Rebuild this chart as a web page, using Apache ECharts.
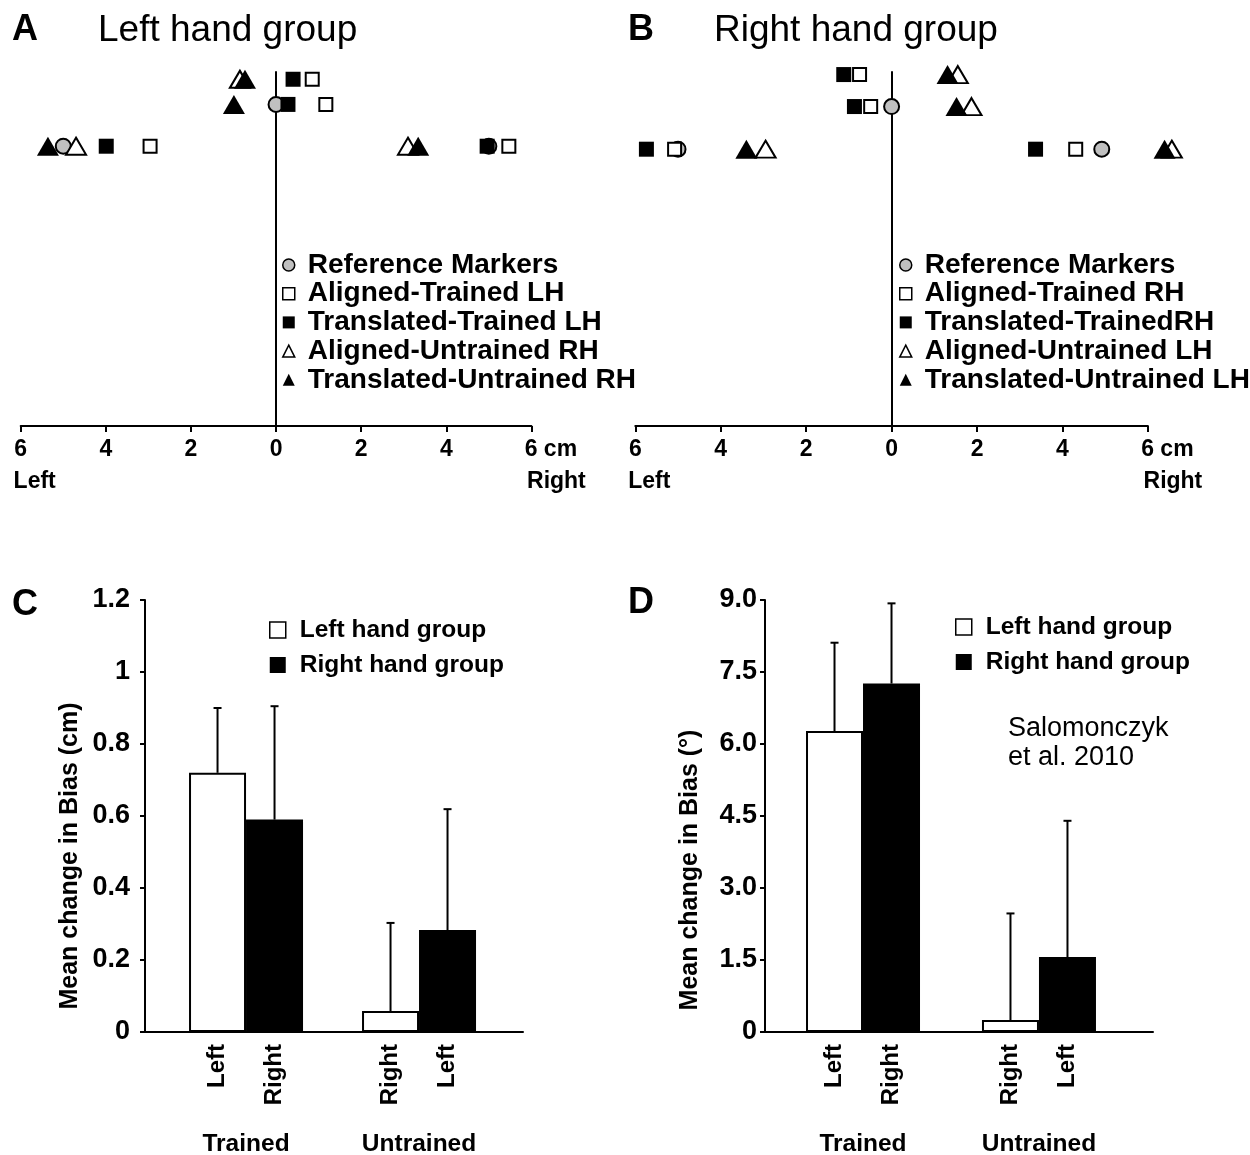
<!DOCTYPE html>
<html><head><meta charset="utf-8">
<script src="https://cdn.jsdelivr.net/npm/echarts@6/dist/echarts.min.js"></script>
<style>html,body{margin:0;padding:0;background:#fff}#c{width:1250px;height:1155px}</style>
</head><body><div id="c"></div>
<script>
const FONT = '"Liberation Sans", Arial, Helvetica, sans-serif';

// ---------- Panel A: Left hand group (x = cm, y = target row) ----------
const aRef                 = [[-5.0, 6.56], [0, 7.54], [5.0, 6.56]];
const aAlignedTrained      = [[0.85, 8.13], [1.17, 7.54], [-2.96, 6.56], [5.47, 6.56]];
const aTranslatedTrained   = [[0.40, 8.13], [0.28, 7.54], [-3.99, 6.56], [4.96, 6.56]];
const aAlignedUntrained    = [[-0.85, 8.13], [-4.70, 6.56], [3.10, 6.56]];
const aTranslatedUntrained = [[-0.73, 8.13], [-0.99, 7.54], [-5.36, 6.56], [3.34, 6.56]];
const aNames = ['Reference Markers', 'Aligned-Trained LH', 'Translated-Trained LH', 'Aligned-Untrained RH', 'Translated-Untrained RH'];

// ---------- Panel B: Right hand group ----------
const bRef                 = [[-5.0, 6.49], [0, 7.49], [4.92, 6.49]];
const bAlignedTrained      = [[-0.75, 8.24], [-0.49, 7.49], [-5.08, 6.49], [4.31, 6.49]];
const bTranslatedTrained   = [[-1.12, 8.24], [-0.87, 7.49], [-5.74, 6.49], [3.37, 6.49]];
const bAlignedUntrained    = [[1.55, 8.24], [1.87, 7.49], [-2.95, 6.49], [6.56, 6.49]];
const bTranslatedUntrained = [[1.31, 8.24], [1.52, 7.49], [-3.40, 6.49], [6.39, 6.49]];
const bNames = ['Reference Markers', 'Aligned-Trained RH', 'Translated-TrainedRH', 'Aligned-Untrained LH', 'Translated-Untrained LH'];

const sideLabels = ['Left', 'Right'];
const panelTitles = ['Left hand group', 'Right hand group'];

// ---------- Panels C / D: bars ----------
const barGroups = ['Trained', 'Untrained'];
const groupNames = ['Left hand group', 'Right hand group'];
const handUsedLeftGroup  = ['Left', 'Right'];
const handUsedRightGroup = ['Right', 'Left'];

const cLeftGroup     = [0.72, 0.058];
const cLeftGroupErr  = [0.18, 0.245];
const cRightGroup    = [0.59, 0.283];
const cRightGroupErr = [0.315, 0.336];

const dLeftGroup     = [6.27, 0.25];
const dLeftGroupErr  = [1.84, 2.22];
const dRightGroup    = [7.26, 1.56];
const dRightGroupErr = [1.67, 2.84];

const BAR_W = 57;

const chart = echarts.init(document.getElementById('c'), null, {renderer: 'canvas'});

const symStyles = [
  {symbol: 'circle', symbolSize: 15, itemStyle: {color: '#c0c0c0', borderColor: '#000', borderWidth: 2, opacity: 1}},
  {symbol: 'rect', symbolSize: 13, itemStyle: {color: '#fff', borderColor: '#000', borderWidth: 2, opacity: 1}},
  {symbol: 'rect', symbolSize: 15, itemStyle: {color: '#000', borderColor: '#000', borderWidth: 0, opacity: 1}},
  {symbol: 'triangle', symbolSize: [20, 17], itemStyle: {color: '#fff', borderColor: '#000', borderWidth: 2, opacity: 1}},
  {symbol: 'triangle', symbolSize: [22, 19], itemStyle: {color: '#000', borderColor: '#000', borderWidth: 0, opacity: 1}}
];

function scatterSet(idx, names, sets) {
  return sets.map((d, k) => Object.assign({
    type: 'scatter', name: names[k], xAxisIndex: idx, yAxisIndex: idx,
    data: d, clip: false, silent: true
  }, symStyles[k]));
}

function topXAxis(gridIndex) {
  return {
    type: 'value', gridIndex, min: -6, max: 6, interval: 2,
    axisLine: {show: true, onZero: false, lineStyle: {color: '#000', width: 2}},
    axisTick: {show: true, inside: false, length: 6, lineStyle: {color: '#000', width: 2}},
    splitLine: {show: false},
    axisLabel: {
      color: '#000', fontFamily: FONT, fontSize: 23, fontWeight: 'bold', lineHeight: 32, margin: 8,
      formatter: v => v === -6 ? '6\n{gl| }' + sideLabels[0]
                    : v === 6 ? '{gc| }6 cm\n{gr| }' + sideLabels[1]
                    : String(Math.abs(v)),
      rich: {
        gl: {width: 28, lineHeight: 32},
        gc: {width: 39, lineHeight: 32},
        gr: {width: 50, lineHeight: 32}
      }
    }
  };
}
function topYAxis(gridIndex) {
  return {
    type: 'value', gridIndex, min: 0, max: 8.3,
    axisLine: {show: true, onZero: true, lineStyle: {color: '#000', width: 2}},
    axisTick: {show: false}, axisLabel: {show: false}, splitLine: {show: false}
  };
}
function barXAxis(gridIndex, min, max) {
  return {
    type: 'value', gridIndex, min, max,
    axisLine: {show: true, onZero: false, lineStyle: {color: '#000', width: 2}},
    axisTick: {show: false}, splitLine: {show: false},
    axisLabel: {
      customValues: [0, 1], color: '#000', fontFamily: FONT, fontSize: 24.5, fontWeight: 'bold',
      lineHeight: 30, margin: 97,
      formatter: v => Number.isInteger(v) && barGroups[v] ? barGroups[v] : ''
    }
  };
}
function barYAxis(gridIndex, max, interval, name, fmt, labelMargin, nameShift) {
  return {
    type: 'value', gridIndex, min: 0, max, interval,
    name, nameLocation: 'middle', nameGap: 62,
    nameTextStyle: {color: '#000', fontFamily: FONT, fontSize: 25, fontWeight: 'bold', padding: [0, nameShift, 0, 0]},
    axisLine: {show: true, onZero: false, lineStyle: {color: '#000', width: 2}},
    axisTick: {show: true, inside: false, length: 5, lineStyle: {color: '#000', width: 2}},
    splitLine: {show: false},
    axisLabel: {color: '#000', fontFamily: FONT, fontSize: 27, fontWeight: 'bold', margin: labelMargin, formatter: fmt}
  };
}

function barSeries(idx, name, vals, hands, fill) {
  return {
    type: 'bar', name, xAxisIndex: idx, yAxisIndex: idx,
    data: vals.map((v, i) => [i, v]),
    barWidth: BAR_W, barGap: '0%', silent: true,
    itemStyle: {color: fill, borderColor: '#000', borderWidth: 2},
    label: {
      show: true, position: 'bottom', rotate: 90, align: 'right', verticalAlign: 'middle',
      distance: 12, color: '#000', fontFamily: FONT, fontSize: 24, fontWeight: 'bold',
      formatter: p => hands[p.dataIndex]
    }
  };
}
function errSeries(idx, vals, errs, side) {
  return {
    type: 'custom', xAxisIndex: idx, yAxisIndex: idx, z: 5, silent: true, clip: false,
    data: vals.map((v, i) => [i, v, errs[i]]),
    encode: {x: 0, y: 1},
    renderItem(params, api) {
      const x = api.value(0), m = api.value(1), e = api.value(2);
      const b = api.coord([x, m]), t = api.coord([x, m + e]);
      const cx = b[0] + side * BAR_W / 2;
      const st = {stroke: '#000', lineWidth: 2};
      return {type: 'group', children: [
        {type: 'line', shape: {x1: cx, y1: b[1], x2: cx, y2: t[1]}, style: st},
        {type: 'line', shape: {x1: cx - 4, y1: t[1], x2: cx + 4, y2: t[1]}, style: st}
      ]};
    }
  };
}

function topLegend(left, top, names) {
  const legStyles = [
    {color: '#c0c0c0', borderColor: '#000', borderWidth: 1.5},
    {color: '#fff', borderColor: '#000', borderWidth: 1.5},
    {color: '#000', borderColor: '#000', borderWidth: 0},
    {color: '#fff', borderColor: '#000', borderWidth: 1.5},
    {color: '#000', borderColor: '#000', borderWidth: 0}
  ];
  const icons = ['circle', 'rect', 'rect', 'triangle', 'triangle'];
  return {
    left, top, padding: 0, orient: 'vertical', itemGap: 0.7, itemWidth: 12, itemHeight: 12, selectedMode: false,
    data: names.map((n, k) => ({name: n, icon: icons[k], itemStyle: legStyles[k]})),
    textStyle: {color: '#000', fontFamily: FONT, fontSize: 28, fontWeight: 'bold', lineHeight: 28, padding: [0, 0, 0, 8]}
  };
}
function barLegend(left, top) {
  return {
    left, top, padding: 0, orient: 'vertical', itemGap: 5, itemWidth: 16, itemHeight: 16, selectedMode: false,
    data: [
      {name: groupNames[0], icon: 'rect', itemStyle: {color: '#fff', borderColor: '#000', borderWidth: 1.5}},
      {name: groupNames[1], icon: 'rect', itemStyle: {color: '#000', borderColor: '#000', borderWidth: 0}}
    ],
    textStyle: {color: '#000', fontFamily: FONT, fontSize: 24.5, fontWeight: 'bold', lineHeight: 30, padding: [0, 0, 0, 9]}
  };
}

const letterStyle = {color: '#000', fontFamily: FONT, fontSize: 36, fontWeight: 'bold'};
const titleStyle = {color: '#000', fontFamily: FONT, fontSize: 37, fontWeight: 'normal'};

const option = {
  animation: false,
  backgroundColor: '#fff',
  title: [
    {text: 'A', left: 12, top: 12, padding: 0, textStyle: letterStyle},
    {text: panelTitles[0], left: 98, top: 12, padding: 0, textStyle: titleStyle},
    {text: 'B', left: 628, top: 12, padding: 0, textStyle: letterStyle},
    {text: panelTitles[1], left: 714, top: 12, padding: 0, textStyle: titleStyle},
    {text: 'C', left: 12, top: 587, padding: 0, textStyle: letterStyle},
    {text: 'D', left: 628, top: 585, padding: 0, textStyle: letterStyle},
    {text: 'Salomonczyk\net al. 2010', left: 1008, top: 714, padding: 0,
     textStyle: {color: '#000', fontFamily: FONT, fontSize: 27, fontWeight: 'normal', lineHeight: 29}}
  ],
  grid: [
    {left: 20.7, top: 72, width: 510.7, height: 354, outerBoundsMode: 'none', containLabel: false},
    {left: 635.3, top: 72, width: 512.6, height: 354, outerBoundsMode: 'none', containLabel: false},
    {left: 145, top: 600, width: 378, height: 432, outerBoundsMode: 'none', containLabel: false},
    {left: 765, top: 600, width: 388, height: 432, outerBoundsMode: 'none', containLabel: false}
  ],
  xAxis: [
    topXAxis(0), topXAxis(1),
    barXAxis(2, -0.584, 1.601),
    barXAxis(3, -0.557, 1.648)
  ],
  yAxis: [
    topYAxis(0), topYAxis(1),
    barYAxis(2, 1.2, 0.2, 'Mean change in Bias (cm)', v => String(Math.round(v * 10) / 10), 15, 80),
    barYAxis(3, 9, 1.5, 'Mean change in Bias (°)', v => v === 0 ? '0' : v.toFixed(1), 8, 108)
  ],
  legend: [
    topLegend(282, 251, aNames),
    topLegend(899, 251, bNames),
    barLegend(269, 615),
    barLegend(955, 612)
  ],
  series: [
    ...scatterSet(0, aNames, [aRef, aAlignedTrained, aTranslatedTrained, aAlignedUntrained, aTranslatedUntrained]),
    ...scatterSet(1, bNames, [bRef, bAlignedTrained, bTranslatedTrained, bAlignedUntrained, bTranslatedUntrained]),
    barSeries(2, groupNames[0], cLeftGroup, handUsedLeftGroup, '#fff'),
    barSeries(2, groupNames[1], cRightGroup, handUsedRightGroup, '#000'),
    errSeries(2, cLeftGroup, cLeftGroupErr, -1),
    errSeries(2, cRightGroup, cRightGroupErr, 1),
    barSeries(3, groupNames[0], dLeftGroup, handUsedLeftGroup, '#fff'),
    barSeries(3, groupNames[1], dRightGroup, handUsedRightGroup, '#000'),
    errSeries(3, dLeftGroup, dLeftGroupErr, -1),
    errSeries(3, dRightGroup, dRightGroupErr, 1)
  ]
};
chart.setOption(option);
</script></body></html>
